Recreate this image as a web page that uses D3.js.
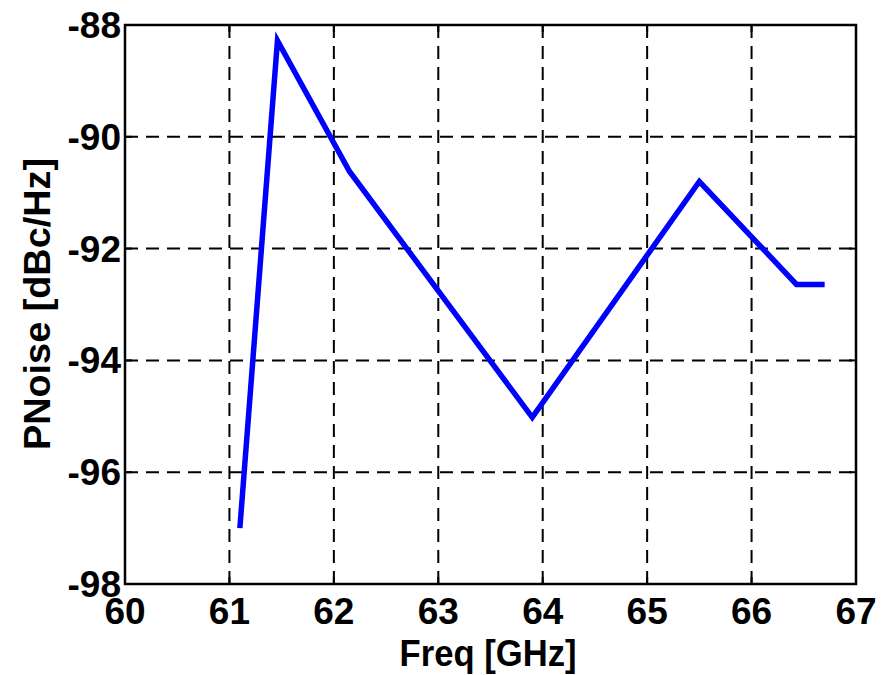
<!DOCTYPE html>
<html>
<head>
<meta charset="utf-8">
<script src="https://cdn.jsdelivr.net/npm/d3@7/dist/d3.min.js"></script>
<style>
  html, body { margin: 0; padding: 0; background: #fff; }
  svg { display: block; }
  text { font-family: "Liberation Sans", Arial, sans-serif; font-weight: bold; fill: #000; }
</style>
</head>
<body>
<svg id="chart" width="883" height="675"></svg>
<script>
// Phase noise vs. frequency
const freqGHz = [61.10, 61.46, 62.15, 63.90, 65.50, 66.43, 66.70];
const pnoise  = [-97.0, -88.28, -90.62, -95.02, -90.80, -92.64, -92.64];
const xTicks = [60, 61, 62, 63, 64, 65, 66, 67];
const yTicks = [-88, -90, -92, -94, -96, -98];

const svg = d3.select("#chart");
const plot = { left: 125, right: 856, top: 25, bottom: 584 };

const x = d3.scaleLinear().domain([60, 67]).range([plot.left, plot.right]);
const y = d3.scaleLinear().domain([-98, -88]).range([plot.bottom, plot.top]);

// dashed grid at interior ticks
const grid = svg.append("g").attr("stroke", "#000").attr("stroke-width", 2)
  .attr("stroke-dasharray", "13,8");
grid.selectAll("line.v").data(xTicks.slice(1, -1)).join("line")
  .attr("x1", d => x(d)).attr("x2", d => x(d))
  .attr("y1", plot.top).attr("y2", plot.bottom);
grid.selectAll("line.h").data(yTicks.slice(1, -1)).join("line")
  .attr("x1", plot.left).attr("x2", plot.right)
  .attr("y1", d => y(d)).attr("y2", d => y(d));

// inward tick marks on all four sides
const tickLen = 7;
const ticks = svg.append("g").attr("stroke", "#000").attr("stroke-width", 2);
xTicks.forEach(t => {
  ticks.append("line").attr("x1", x(t)).attr("x2", x(t)).attr("y1", plot.bottom).attr("y2", plot.bottom - tickLen);
  ticks.append("line").attr("x1", x(t)).attr("x2", x(t)).attr("y1", plot.top).attr("y2", plot.top + tickLen);
});
yTicks.forEach(t => {
  ticks.append("line").attr("x1", plot.left).attr("x2", plot.left + tickLen).attr("y1", y(t)).attr("y2", y(t));
  ticks.append("line").attr("x1", plot.right).attr("x2", plot.right - tickLen).attr("y1", y(t)).attr("y2", y(t));
});

// axes box
svg.append("rect")
  .attr("x", plot.left).attr("y", plot.top)
  .attr("width", plot.right - plot.left).attr("height", plot.bottom - plot.top)
  .attr("fill", "none").attr("stroke", "#000").attr("stroke-width", 2.5);

// data line
const line = d3.line().x((d, i) => x(freqGHz[i])).y(d => y(d));
svg.append("path")
  .datum(pnoise)
  .attr("d", line)
  .attr("fill", "none")
  .attr("stroke", "#0000ff")
  .attr("stroke-width", 5.5)
  .attr("stroke-linejoin", "miter")
  .attr("stroke-linecap", "butt");

// tick labels
svg.append("g").selectAll("text").data(xTicks).join("text")
  .attr("x", d => x(d)).attr("y", 624)
  .attr("text-anchor", "middle")
  .attr("font-size", 37)
  .text(d => d);

svg.append("g").selectAll("text").data(yTicks).join("text")
  .attr("x", 121).attr("y", d => y(d) + 13)
  .attr("text-anchor", "end")
  .attr("font-size", 37)
  .text(d => d);

// axis titles
svg.append("text")
  .attr("x", 488).attr("y", 666)
  .attr("text-anchor", "middle")
  .attr("font-size", 37)
  .attr("textLength", 177).attr("lengthAdjust", "spacingAndGlyphs")
  .text("Freq [GHz]");

svg.append("text")
  .attr("transform", "translate(50,304) rotate(-90)")
  .attr("text-anchor", "middle")
  .attr("font-size", 37)
  .attr("textLength", 292).attr("lengthAdjust", "spacingAndGlyphs")
  .text("PNoise [dBc/Hz]");
</script>
</body>
</html>
